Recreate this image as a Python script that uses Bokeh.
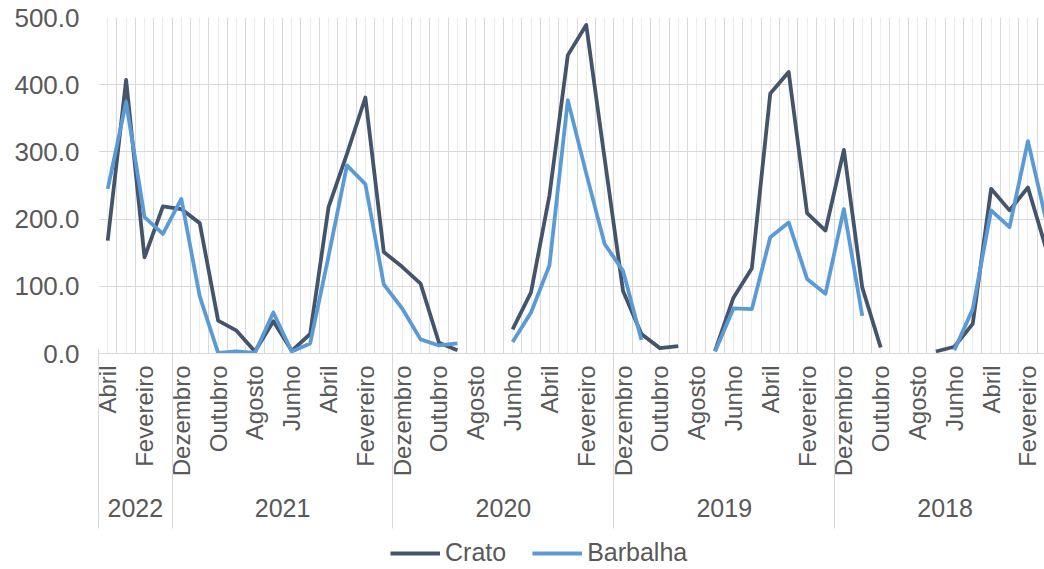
import math

from bokeh.embed import file_html
from bokeh.layouts import column
from bokeh.models import (ColumnDataSource, FixedTicker, Legend, LinearAxis,
                          NumeralTickFormatter, Range1d)
from bokeh.plotting import figure
from bokeh.resources import INLINE

nan = float("nan")

# Monthly series, most recent month first (Abril 2022 back to Janeiro 2018)
month_cycle = ["Dezembro", "Novembro", "Outubro", "Setembro", "Agosto", "Julho",
               "Junho", "Maio", "Abril", "Março", "Fevereiro", "Janeiro"]
months = ["Abril", "Março", "Fevereiro", "Janeiro"] + month_cycle * 4
years = [2022] * 4 + [2021] * 12 + [2020] * 12 + [2019] * 12 + [2018] * 12

crato = [168, 407, 143, 219, 215, 194, 49, 34, 3, 48, 4, 29,
         218, 297, 381, 151, 129, 104, 16, 5, nan, nan, 36, 91,
         235, 444, 489, 290, 93, 29, 8, 11, nan, 4, 83, 127,
         387, 419, 209, 183, 303, 98, 9, nan, nan, 3, 10, 44,
         245, 213, 247, 155]
barbalha = [245, 374, 203, 178, 230, 85, 1, 3, 1, 61, 3, 15,
            145, 280, 252, 103, 67, 21, 12, 15, nan, nan, 17, 61,
            131, 377, 268, 163, 123, 20, nan, nan, nan, 3, 67, 66,
            173, 195, 111, 89, 215, 56, nan, nan, nan, nan, 5, 66,
            213, 188, 316, 197]

y_ticks = [0, 100, 200, 300, 400, 500]

TEXT = "#595959"
GRID = "#d9d9d9"
MINOR_GRID = "#ececec"
FONT = "Liberation Sans"
FS = "24px"
CRATO_COLOR = "#44546a"
BARBALHA_COLOR = "#5b9bd5"
LW = 3.8

x = list(range(len(months)))
src = ColumnDataSource(dict(x=x, crato=crato, barbalha=barbalha))

# year groups: first/last index of each year
groups = []
for i, yr in enumerate(years):
    if not groups or groups[-1][0] != yr:
        groups.append([yr, i, i])
    else:
        groups[-1][2] = i
year_centers = [(a + b) / 2 for _, a, b in groups]
separators = [a - 0.5 for _, a, b in groups]

p = figure(width=1044, height=530, output_backend="svg", toolbar_location=None,
           x_range=Range1d(-0.5, 50.9), y_range=Range1d(0, 500),
           min_border_left=98, min_border_right=0, min_border_top=17,
           min_border_bottom=177)
p.outline_line_color = None
p.background_fill_color = "white"
p.border_fill_color = "white"

# month axis: every second month labelled
xa = p.xaxis[0]
xa.ticker = FixedTicker(ticks=x[::2], minor_ticks=[])
xa.major_label_overrides = {i: months[i] for i in x[::2]}
xa.major_label_orientation = math.pi / 2
xa.major_tick_in = 0
xa.major_tick_out = 0
xa.minor_tick_line_color = None
xa.axis_line_color = GRID
xa.major_label_standoff = 12
xa.major_label_text_font = FONT
xa.major_label_text_font_size = FS
xa.major_label_text_color = TEXT

# year axis below the months; its minor ticks are the group separators,
# reaching up through the month labels to the plot area
year_axis = LinearAxis(ticker=FixedTicker(ticks=year_centers, minor_ticks=separators),
                       major_label_overrides={c: str(g[0]) for c, g in zip(year_centers, groups)},
                       axis_line_color=None, major_tick_line_color=None,
                       major_tick_in=0, major_tick_out=0,
                       minor_tick_line_color=GRID, minor_tick_in=130, minor_tick_out=49,
                       major_label_standoff=-30,
                       major_label_text_font=FONT, major_label_text_font_size="25px",
                       major_label_text_color=TEXT)
p.add_layout(year_axis, "below")

ya = p.yaxis[0]
ya.ticker = FixedTicker(ticks=y_ticks, minor_ticks=[])
ya.formatter = NumeralTickFormatter(format="0.0")
ya.axis_line_color = None
ya.major_tick_line_color = None
ya.minor_tick_line_color = None
ya.major_label_standoff = 13
ya.major_label_text_font = FONT
ya.major_label_text_font_size = "26px"
ya.major_label_text_color = TEXT

xg = p.xgrid[0]
xg.ticker = FixedTicker(ticks=[i - 0.5 for i in range(len(x) + 1)], minor_ticks=x)
xg.grid_line_color = GRID
xg.minor_grid_line_color = MINOR_GRID
yg = p.ygrid[0]
yg.ticker = FixedTicker(ticks=y_ticks, minor_ticks=[])
yg.grid_line_color = GRID

p.line("x", "crato", source=src, line_color=CRATO_COLOR, line_width=LW,
       line_join="round")
p.line("x", "barbalha", source=src, line_color=BARBALHA_COLOR, line_width=LW,
       line_join="round")

# legend strip underneath the chart; its key lines sit outside the strip's view
leg = figure(width=1044, height=39, output_backend="svg", toolbar_location=None,
             min_border=0, x_range=Range1d(0, 1), y_range=Range1d(0, 1))
leg.axis.visible = False
leg.grid.visible = False
leg.outline_line_color = None
k1 = leg.line([-5, -4], [-5, -4], line_color=CRATO_COLOR, line_width=LW)
k2 = leg.line([-5, -4], [-5, -4], line_color=BARBALHA_COLOR, line_width=LW)
legend = Legend(items=[("Crato", [k1]), ("Barbalha", [k2])], orientation="horizontal",
                location=(292, 2), label_text_font=FONT, label_text_font_size="25px",
                label_text_color=TEXT, glyph_width=50, glyph_height=20,
                label_standoff=5, spacing=26, padding=0, margin=0,
                border_line_color=None, background_fill_alpha=0)
leg.add_layout(legend, "center")

open("out.html", "w").write(file_html(column(p, leg, spacing=0), INLINE))
